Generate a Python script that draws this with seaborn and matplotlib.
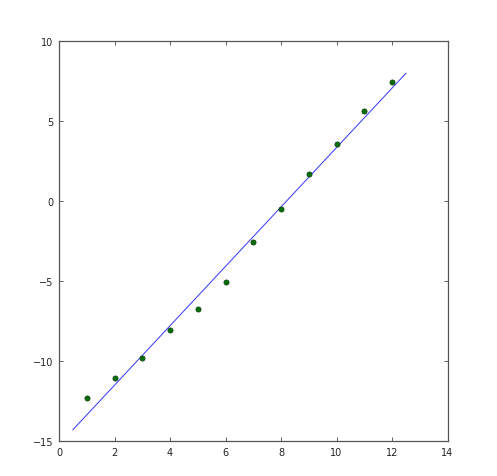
import numpy as np
import pandas as pd
import matplotlib
matplotlib.use("Agg")
import matplotlib.pyplot as plt
import seaborn as sns

x_values = [1, 2, 3, 4, 5, 6, 7, 8, 9, 10, 11, 12]
y_values = [-12.33, -11.06, -9.81, -8.06, -6.77, -5.06, -2.58, -0.50, 1.67, 3.56, 5.60, 7.44]
x_ticks = [0, 2, 4, 6, 8, 10, 12, 14]
y_ticks = [-15, -10, -5, 0, 5, 10]
fit_range = (0.5, 12.5)

df = pd.DataFrame({"x": x_values, "y": y_values})
slope, intercept = np.polyfit(df["x"], df["y"], 1)
xf = np.linspace(fit_range[0], fit_range[1], 50)
fit = pd.DataFrame({"x": xf, "y": slope * xf + intercept})

plt.rcParams["font.family"] = ["DejaVu Sans"]
plt.rcParams["font.size"] = 7
plt.rcParams["axes.unicode_minus"] = True

fig = plt.figure(figsize=(4.97, 4.77), dpi=100, facecolor="white")
ax = fig.add_axes([59 / 497, 1 - 442 / 477, 388.5 / 497, 400 / 477])

sns.lineplot(data=fit, x="x", y="y", ax=ax, color="#3333ff", linewidth=0.7, zorder=2)
sns.scatterplot(data=df, x="x", y="y", ax=ax, color="#007000", edgecolor="#1a3a1a",
                linewidth=0.5, s=14, zorder=3)

ax.set_xlim(0, 14)
ax.set_ylim(-15, 10)
ax.set_xticks(x_ticks)
ax.set_yticks(y_ticks)
ax.set_xlabel("")
ax.set_ylabel("")
ax.tick_params(direction="in", length=2.8, width=0.6, top=True, right=True,
               labelsize=7, pad=4, colors="#444444", labelcolor="#222222")
for sp in ax.spines.values():
    sp.set_linewidth(0.9)
    sp.set_color("#555555")

fig.savefig("out.png", dpi=100, facecolor="white")
